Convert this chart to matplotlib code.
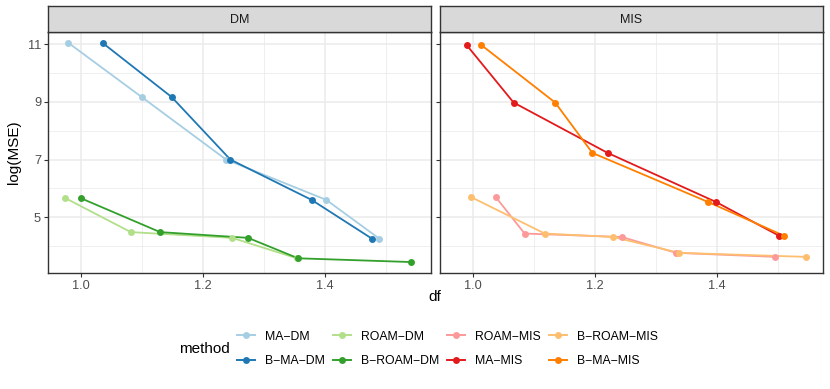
import matplotlib.pyplot as plt
import numpy as np

plt.rcParams['font.family'] = ['Liberation Sans', 'DejaVu Sans']

# data
methods = ["MA-DM", "B-MA-DM", "ROAM-DM", "B-ROAM-DM",
           "ROAM-MIS", "MA-MIS", "B-ROAM-MIS", "B-MA-MIS"]
panel_of = ["DM", "DM", "DM", "DM", "MIS", "MIS", "MIS", "MIS"]
colors = ["#A6CEE3", "#1F78B4", "#B2DF8A", "#33A02C",
          "#FB9A99", "#E31A1C", "#FDBF6F", "#FF7F00"]

df_ma_dm = [0.980, 1.100, 1.238, 1.402, 1.489]
mse_ma_dm = [11.05, 9.17, 7.00, 5.60, 4.25]
df_b_ma_dm = [1.036, 1.149, 1.245, 1.378, 1.477]
mse_b_ma_dm = [11.05, 9.17, 7.00, 5.60, 4.25]
df_roam_dm = [0.975, 1.082, 1.248, 1.354]
mse_roam_dm = [5.66, 4.48, 4.28, 3.57]
df_b_roam_dm = [1.000, 1.130, 1.274, 1.356, 1.541]
mse_b_roam_dm = [5.66, 4.48, 4.28, 3.57, 3.44]
df_roam_mis = [1.038, 1.085, 1.244, 1.333, 1.495]
mse_roam_mis = [5.69, 4.43, 4.31, 3.76, 3.62]
df_ma_mis = [0.990, 1.067, 1.221, 1.398, 1.501]
mse_ma_mis = [10.98, 8.98, 7.23, 5.53, 4.36]
df_b_roam_mis = [0.998, 1.118, 1.230, 1.338, 1.545]
mse_b_roam_mis = [5.69, 4.43, 4.31, 3.76, 3.62]
df_b_ma_mis = [1.014, 1.135, 1.196, 1.385, 1.509]
mse_b_ma_mis = [10.98, 8.98, 7.23, 5.53, 4.36]

xs = [df_ma_dm, df_b_ma_dm, df_roam_dm, df_b_roam_dm,
      df_roam_mis, df_ma_mis, df_b_roam_mis, df_b_ma_mis]
ys = [mse_ma_dm, mse_b_ma_dm, mse_roam_dm, mse_b_roam_dm,
      mse_roam_mis, mse_ma_mis, mse_b_roam_mis, mse_b_ma_mis]

W, H = 830, 389
fig = plt.figure(figsize=(W / 100, H / 100), dpi=100)

def px(l, t, w, h):
    return [l / W, (H - t - h) / H, w / W, h / H]

allx = np.concatenate([np.array(v) for v in xs])
ally = np.concatenate([np.array(v) for v in ys])
xr = allx.max() - allx.min()
yr = ally.max() - ally.min()
xlim = (allx.min() - 0.05 * xr, allx.max() + 0.05 * xr)
ylim = (ally.min() - 0.05 * yr, ally.max() + 0.05 * yr)

handles = {}
for i, panel in enumerate(["DM", "MIS"]):
    left = 48 if i == 0 else 440
    ax = fig.add_axes(px(left, 32, 383, 241))
    sax = fig.add_axes(px(left, 6, 383, 26))
    sax.set_facecolor("#D9D9D9")
    sax.set_xticks([]); sax.set_yticks([])
    for s in sax.spines.values():
        s.set_color("#333333"); s.set_linewidth(1.0)
    sax.text(0.5, 0.48, panel, ha="center", va="center", fontsize=9, color="#1A1A1A")

    ax.set_xlim(xlim); ax.set_ylim(ylim)
    ax.set_xticks([1.0, 1.2, 1.4])
    ax.set_xticks([1.1, 1.3, 1.5], minor=True)
    ax.set_yticks([5, 7, 9, 11])
    ax.set_yticks([4, 6, 8, 10], minor=True)
    ax.grid(which="major", color="#EBEBEB", linewidth=1.1)
    ax.grid(which="minor", color="#EBEBEB", linewidth=0.55)
    ax.set_axisbelow(True)
    ax.tick_params(which="minor", length=0)
    ax.tick_params(which="major", length=3, color="#333333", labelsize=9.2,
                   labelcolor="#4D4D4D", pad=2)
    if i == 1:
        ax.set_yticklabels([])
    for s in ax.spines.values():
        s.set_color("#333333"); s.set_linewidth(1.0)

    for k in range(len(methods)):
        if panel_of[k] != panel:
            continue
        ax.plot(xs[k], ys[k], color=colors[k], linewidth=1.3, zorder=2)
    for k in range(len(methods)):
        if panel_of[k] != panel:
            continue
        ax.plot(xs[k], ys[k], "o", color=colors[k], markersize=5,
                markeredgewidth=0, zorder=3)
        handles[methods[k]] = plt.Line2D([], [], color=colors[k], linewidth=1.4,
                                         marker="o", markersize=5, markeredgewidth=0)

fig.text(14 / W, 1 - 152 / H, "log(MSE)", rotation=90, ha="center", va="center",
         fontsize=11)
fig.text(435 / W, 1 - 297 / H, "df", ha="center", va="center", fontsize=11)
fig.text(179 / W, 1 - 349 / H, "method", ha="left", va="center", fontsize=11)

labels = [m.replace("-", "\u2212") for m in methods]
fig.legend([handles[m] for m in methods], labels, ncol=4, frameon=False,
           loc="center left", bbox_to_anchor=(237 / W, 1 - 349 / H),
           fontsize=8.8, handlelength=1.47, handletextpad=0.82,
           columnspacing=0.65, labelspacing=1.05, borderaxespad=0, borderpad=0)

fig.savefig("out.png", dpi=100)
